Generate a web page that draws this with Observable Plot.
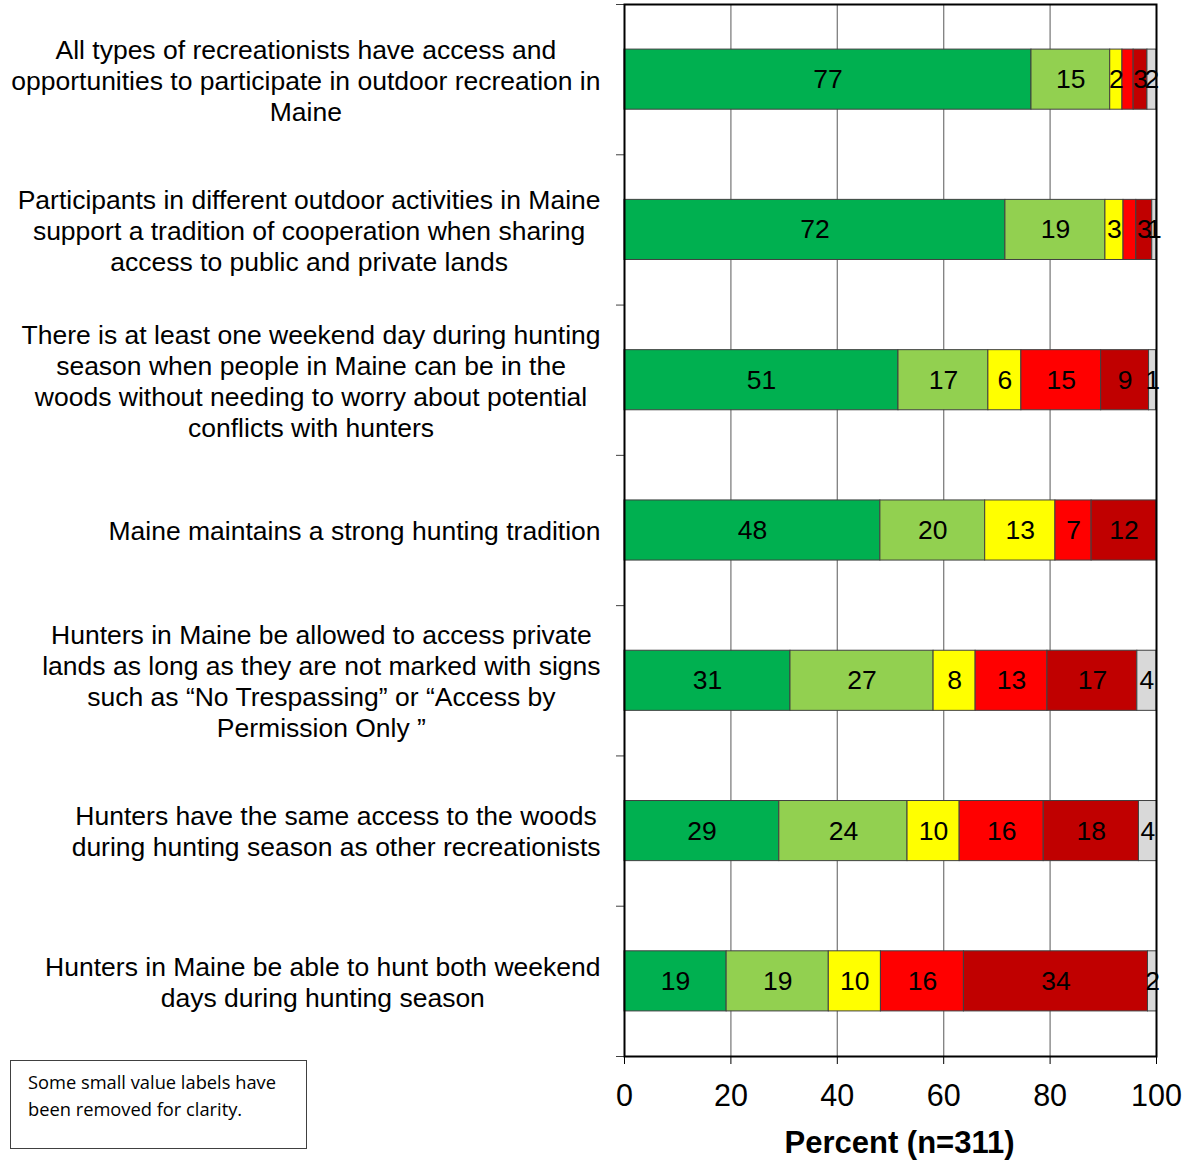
<!DOCTYPE html>
<html><head><meta charset="utf-8">
<script src="https://cdn.jsdelivr.net/npm/d3@7"></script>
<script src="https://cdn.jsdelivr.net/npm/@observablehq/plot@0.6"></script>
<style>
body{margin:0;background:#fff;font-family:"Liberation Sans",Arial,sans-serif;}
#wrap{position:relative;width:1185px;height:1160px;}
#note{position:absolute;left:10px;top:1060px;width:297px;height:89px;box-sizing:border-box;border:1px solid #404040;padding:7px 0 0 17px;font-family:"Open Sans",sans-serif;font-size:18.3px;line-height:27px;color:#000;}
</style></head><body><div id="wrap"></div>
<script>
const categories = [
  "All types of recreationists have access and\nopportunities to participate in outdoor recreation in\nMaine",
  "Participants in different outdoor activities in Maine\nsupport a tradition of cooperation when sharing\naccess to public and private lands",
  "There is at least one weekend day during hunting\nseason when people in Maine can be in the\nwoods without needing to worry about potential\nconflicts with hunters",
  "Maine maintains a strong hunting tradition",
  "Hunters in Maine be allowed to access private\nlands as long as they are not marked with signs\nsuch as \u201cNo Trespassing\u201d or \u201cAccess by\nPermission Only \u201d",
  "Hunters have the same access to the woods\nduring hunting season as other recreationists",
  "Hunters in Maine be able to hunt both weekend\ndays during hunting season"
];
const series = ["Strongly agree", "Moderately agree", "Neither", "Moderately disagree", "Strongly disagree", "Don't know"];
const colors = ["#00B050", "#92D050", "#FFFF00", "#FF0000", "#C00000", "#D9D9D9"];

const stronglyAgree     = [76.5, 71.6, 51.5, 48.1, 31.2, 29.1, 19.2];
const moderatelyAgree   = [14.8, 18.8, 16.9, 19.7, 26.9, 24.1, 19.2];
const neither           = [2.3, 3.4, 6.2, 13.2, 7.9, 9.8, 9.8];
const moderatelyDisagree= [2.1, 2.4, 15.0, 6.8, 13.5, 15.8, 15.6];
const stronglyDisagree  = [2.6, 3.0, 9.0, 12.2, 16.9, 17.9, 34.6];
const dontKnow          = [1.7, 0.8, 1.3, 0, 3.6, 3.4, 1.7];

const labelsSA = ["77", "72", "51", "48", "31", "29", "19"];
const labelsMA = ["15", "19", "17", "20", "27", "24", "19"];
const labelsN  = ["2", "3", "6", "13", "8", "10", "10"];
const labelsMD = ["", "", "15", "7", "13", "16", "16"];
const labelsSD = ["3", "3", "9", "12", "17", "18", "34"];
const labelsDK = ["2", "1", "1", "", "4", "4", "2"];

const xTicks = [0, 20, 40, 60, 80, 100];
const xTitle = "Percent (n=311)";
const note = "Some small value labels have<br>been removed for clarity.";

const valueSets = [stronglyAgree, moderatelyAgree, neither, moderatelyDisagree, stronglyDisagree, dontKnow];
const labelSets = [labelsSA, labelsMA, labelsN, labelsMD, labelsSD, labelsDK];

const segs = [];
categories.forEach((c, i) => {
  let acc = 0;
  series.forEach((s, j) => {
    const v = valueSets[j][i];
    segs.push({cat: i, series: s, x1: acc, x2: acc + v, label: labelSets[j][i]});
    acc += v;
  });
});
const catRows = categories.map((c, i) => ({i, text: c}));
const bounds = d3.range(categories.length + 1);

const FONT = "Liberation Sans, Arial, sans-serif";
const chart = Plot.plot({
  width: 1185,
  height: 1160,
  marginLeft: 624,
  marginRight: 29,
  marginTop: 4,
  marginBottom: 104,
  style: {fontFamily: FONT, background: "white", color: "black"},
  x: {domain: [0, 100]},
  y: {domain: [categories.length, 0]},
  color: {domain: series, range: colors},
  marks: [
    Plot.gridX({ticks: [20, 40, 60, 80], stroke: "#7f7f7f", strokeOpacity: 1, strokeWidth: 1.3}),
    Plot.rect(segs.filter(d => d.x2 > d.x1), {
      x1: "x1", x2: "x2",
      y1: d => d.cat + 0.3, y2: d => d.cat + 0.7,
      fill: "series", stroke: "#404040", strokeWidth: 1
    }),
    Plot.text(segs.filter(d => d.label), {
      x: d => (d.x1 + d.x2) / 2, y: d => d.cat + 0.5,
      text: "label", fontSize: 26.5, fill: "black"
    }),
    Plot.text(catRows, {
      x: () => 0, y: d => d.i + 0.5, text: "text",
      textAnchor: "end", dx: -24, fontSize: 26.5, lineHeight: 1.17,
      fill: "black"
    }),
    Plot.axisY({ticks: bounds, tickSize: 8, tickFormat: () => "", label: null, stroke: "#404040"}),
    Plot.axisX({ticks: xTicks, tickSize: 8, tickPadding: 20, fontSize: 30.5, label: null, stroke: "black"}),
    Plot.text([xTitle], {frameAnchor: "bottom", text: d => d, dx: 9, dy: 96, fontSize: 31, fontWeight: "bold", fill: "black"}),
    Plot.frame({stroke: "black", strokeWidth: 2})
  ]
});

const wrap = document.getElementById("wrap");
wrap.appendChild(chart);
const nd = document.createElement("div");
nd.id = "note";
nd.innerHTML = note;
wrap.appendChild(nd);

// center the lines of each multi-line category label within its own block (block right-aligned)
chart.querySelectorAll("text").forEach(t => {
  const spans = t.querySelectorAll("tspan");
  if (spans.length < 2) return;
  let maxW = 0;
  spans.forEach(s => { maxW = Math.max(maxW, s.getComputedTextLength()); });
  spans.forEach(s => {
    s.setAttribute("x", -maxW / 2);
    s.setAttribute("text-anchor", "middle");
    s.style.textAnchor = "middle";
  });
});
</script>
</body></html>
